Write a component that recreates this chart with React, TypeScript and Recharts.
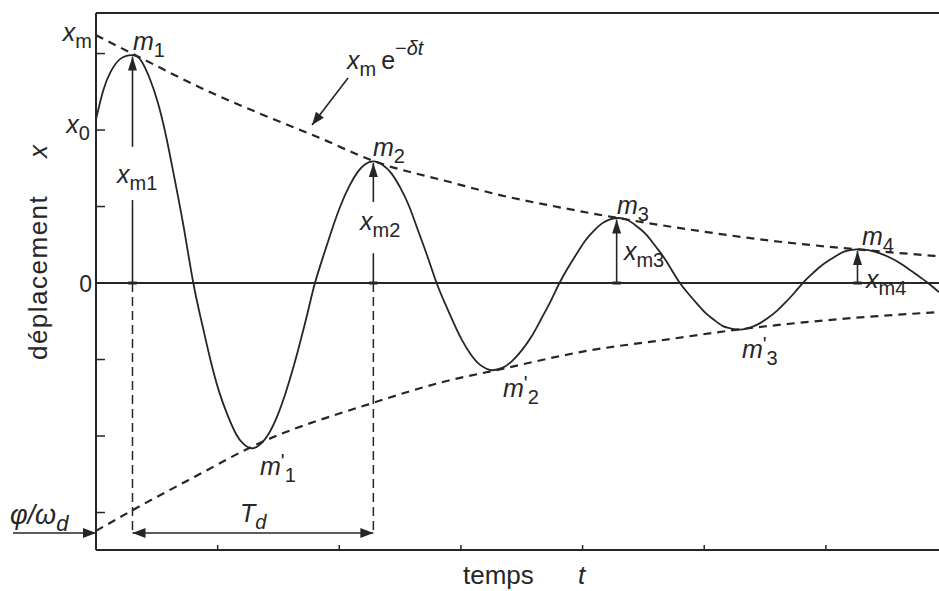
import React from 'react';
import { LineChart, Line, XAxis, YAxis, ReferenceLine, ReferenceDot } from 'recharts';

const INK = '#262626';
const FONT = '"Liberation Sans", Arial, Helvetica, sans-serif';

// displacement x(t) (time and x in axis tick units)
const curveTime = [
  0, 0.06, 0.12, 0.2, 0.3, 0.37, 0.44, 0.51, 0.58, 0.65, 0.72, 0.8,
  0.87, 0.94, 1.01, 1.08, 1.15, 1.21, 1.28, 1.35, 1.42, 1.49, 1.56, 1.63, 1.7, 1.75, 1.8,
  1.87, 1.94, 2.01, 2.08, 2.15, 2.21, 2.28, 2.36, 2.43, 2.5, 2.57, 2.64, 2.72, 2.8,
  2.87, 2.94, 3.01, 3.08, 3.15, 3.21, 3.26, 3.34, 3.42, 3.5, 3.58, 3.66, 3.74, 3.81,
  3.88, 3.95, 4.02, 4.09, 4.16, 4.22, 4.28, 4.36, 4.44, 4.52, 4.6, 4.67, 4.74, 4.8,
  4.87, 4.94, 5.01, 5.08, 5.15, 5.21, 5.28, 5.36, 5.44, 5.52, 5.6, 5.67, 5.74, 5.81,
  5.88, 5.95, 6.02, 6.09, 6.15, 6.2, 6.26, 6.35, 6.44, 6.53, 6.62, 6.71, 6.78, 6.84, 6.93,
];
const curveValue = [
  2.14, 2.52, 2.76, 2.93, 2.98, 2.91, 2.68, 2.35, 1.89, 1.33, 0.74, 0,
  -0.52, -1.0, -1.41, -1.72, -1.97, -2.1, -2.16, -2.11, -1.97, -1.74, -1.43, -1.06, -0.64, -0.32, 0,
  0.36, 0.7, 1.01, 1.26, 1.45, 1.55, 1.59, 1.54, 1.43, 1.25, 1.02, 0.72, 0.37, 0,
  -0.27, -0.52, -0.75, -0.93, -1.06, -1.12, -1.14, -1.11, -1.02, -0.88, -0.7, -0.47, -0.23, 0,
  0.2, 0.38, 0.55, 0.68, 0.78, 0.83, 0.85, 0.83, 0.75, 0.64, 0.48, 0.33, 0.15, 0,
  -0.14, -0.27, -0.39, -0.48, -0.56, -0.59, -0.61, -0.59, -0.54, -0.46, -0.36, -0.25, -0.13, 0,
  0.11, 0.21, 0.29, 0.36, 0.41, 0.43, 0.44, 0.43, 0.39, 0.33, 0.25, 0.15, 0.07, 0, -0.12,
];

// envelopes  ±xm e^(-δt)
const upperTime = [0, 0.36, 0.85, 1.34, 1.82, 2.29, 2.91, 3.32, 3.81, 4.29, 4.96, 5.62, 6.26, 6.93];
const upperValue = [3.24, 2.95, 2.56, 2.22, 1.91, 1.59, 1.32, 1.15, 0.99, 0.85, 0.68, 0.54, 0.44, 0.35];
const lowerTime = [0, 0.3, 0.85, 1.28, 2.27, 2.91, 3.26, 4.06, 4.64, 5.27, 6.2, 6.93];
const lowerValue = [-3.24, -2.97, -2.5, -2.14, -1.57, -1.27, -1.15, -0.88, -0.75, -0.61, -0.46, -0.38];

// maxima m1..m4
const peakTime = [0.3, 2.28, 4.28, 6.26];
const peakValue = [2.98, 1.59, 0.85, 0.44];

const xTicks = [1, 2, 3, 4, 5, 6];
const yTicks = [-3, -2, -1, 0, 1, 2, 3];

const curveData = curveTime.map((t, i) => ({ t, x: curveValue[i] }));
const upperData = upperTime.map((t, i) => ({ t, x: upperValue[i] }));
const lowerData = lowerTime.map((t, i) => ({ t, x: lowerValue[i] }));

type Part = { s: string; it?: boolean; sub?: boolean; sup?: boolean; prime?: boolean };
type Note = {
  t: number;
  v: number;
  parts: Part[];
  size?: number;
  anchor?: 'start' | 'end';
  rotate?: boolean;
  spacing?: number;
};

const mSub = (n: string): Part[] => [{ s: 'm', it: true }, { s: n, sub: true }];
const mPrime = (n: string): Part[] => [
  { s: 'm', it: true },
  { s: "'", prime: true },
  { s: n, sub: true },
];

const notes: Note[] = [
  { t: -0.033, v: 3.16, anchor: 'end', parts: [{ s: 'x', it: true }, { s: 'm', sub: true }] },
  { t: -0.05, v: 1.96, anchor: 'end', parts: [{ s: 'x', it: true }, { s: '0', sub: true }] },
  { t: -0.033, v: -0.12, anchor: 'end', size: 23, parts: [{ s: '0' }] },
  { t: 0.304, v: 3.05, parts: mSub('1') },
  { t: 2.277, v: 1.66, parts: mSub('2') },
  { t: 4.283, v: 0.9, parts: mSub('3') },
  { t: 6.297, v: 0.5, parts: mSub('4') },
  { t: 1.348, v: -2.51, parts: mPrime('1') },
  { t: 3.346, v: -1.49, parts: mPrime('2') },
  { t: 5.31, v: -0.98, parts: mPrime('3') },
  { t: 0.173, v: 1.31, parts: [{ s: 'x', it: true }, { s: 'm1', sub: true }] },
  { t: 2.17, v: 0.69, parts: [{ s: 'x', it: true }, { s: 'm2', sub: true }] },
  { t: 4.34, v: 0.3, parts: [{ s: 'x', it: true }, { s: 'm3', sub: true }] },
  { t: 6.33, v: -0.07, parts: [{ s: 'x', it: true }, { s: 'm4', sub: true }] },
  {
    t: 2.063,
    v: 2.8,
    parts: [
      { s: 'x', it: true },
      { s: 'm', sub: true },
      { s: '\u2009e' },
      { s: '\u2212', sup: true },
      { s: 'δt', sup: true, it: true },
    ],
  },
  { t: -0.707, v: -3.15, size: 27, parts: [{ s: 'φ/ω', it: true }, { s: 'd', sub: true, it: true }] },
  { t: 1.184, v: -3.12, parts: [{ s: 'T', it: true }, { s: 'd', sub: true, it: true }] },
  { t: 3.017, v: -3.935, size: 26, parts: [{ s: 'temps' }] },
  { t: 3.962, v: -3.935, size: 26, parts: [{ s: 't', it: true }] },
  { t: -0.403, v: -1.007, size: 26, rotate: true, spacing: 1.5, parts: [{ s: 'déplacement' }] },
  { t: -0.403, v: 1.634, size: 26, rotate: true, parts: [{ s: 'x', it: true }] },
];

const renderNote = (note: Note) => (p: any) => {
  const { cx, cy } = p;
  const size = note.size ?? 25;
  const small = Math.round(size * 0.8);
  let shift = 0;
  const spans = note.parts.map((part, i) => {
    const target = part.sub ? 7 : part.sup ? -14 : part.prime ? -7 : 0;
    const dy = target - shift;
    shift = target;
    return (
      <tspan
        key={i}
        dy={dy}
        fontSize={part.sub || part.sup || part.prime ? small : size}
        fontStyle={part.it ? 'italic' : 'normal'}
      >
        {part.s}
      </tspan>
    );
  });
  return (
    <text
      x={cx}
      y={cy}
      fill={INK}
      fontFamily={FONT}
      fontSize={size}
      textAnchor={note.anchor ?? 'start'}
      letterSpacing={note.spacing}
      transform={note.rotate ? `rotate(-90 ${cx} ${cy})` : undefined}
    >
      {spans}
    </text>
  );
};

const arrowShape = (headStart: boolean, headEnd: boolean, len = 14, half = 4.5) => (p: any) => {
  const { x1, y1, x2, y2 } = p;
  const dx = x2 - x1;
  const dy = y2 - y1;
  const d = Math.hypot(dx, dy) || 1;
  const ux = dx / d;
  const uy = dy / d;
  const head = (tx: number, ty: number, sx: number, sy: number) => {
    const bx = tx - sx * len;
    const by = ty - sy * len;
    return `${tx},${ty} ${bx - sy * half},${by + sx * half} ${bx + sy * half},${by - sx * half}`;
  };
  return (
    <g>
      <line x1={x1} y1={y1} x2={x2} y2={y2} stroke={INK} strokeWidth={1.6} />
      {headEnd && <polygon points={head(x2, y2, ux, uy)} fill={INK} />}
      {headStart && <polygon points={head(x1, y1, -ux, -uy)} fill={INK} />}
    </g>
  );
};

const noLabel = () => <g />;

// label gaps cut into the xm1 / xm2 arrows
const arrowGaps: ([number, number] | null)[] = [[1.085, 1.78], [0.39, 1.06], null, null];
const baseLevel = -3.268;

export default function App() {
  return (
    <div style={{ position: 'absolute', left: 0, top: 0, width: 939, height: 591, background: '#fff' }}>
      <LineChart width={939} height={591} margin={{ top: 13, right: 0, bottom: 41, left: 96 }}>
        <XAxis
          dataKey="t"
          type="number"
          domain={[0, 6.93]}
          ticks={xTicks}
          mirror
          tick={noLabel}
          tickSize={5}
          axisLine={{ stroke: INK, strokeWidth: 2 }}
          tickLine={{ stroke: INK, strokeWidth: 1.5 }}
        />
        <XAxis
          xAxisId="top"
          orientation="top"
          type="number"
          domain={[0, 6.93]}
          ticks={xTicks}
          mirror
          tick={noLabel}
          tickSize={5}
          axisLine={{ stroke: INK, strokeWidth: 2 }}
          tickLine={{ stroke: INK, strokeWidth: 1.5 }}
        />
        <YAxis
          type="number"
          domain={[-3.49, 3.53]}
          ticks={yTicks}
          mirror
          tick={noLabel}
          tickSize={9}
          axisLine={{ stroke: INK, strokeWidth: 2 }}
          tickLine={{ stroke: INK, strokeWidth: 1.5 }}
        />

        <ReferenceLine y={0} stroke={INK} strokeWidth={2} ifOverflow="visible" />

        {/* period construction */}
        {[peakTime[0], peakTime[1]].map((t) => (
          <ReferenceLine
            key={`dash-${t}`}
            segment={[{ x: t, y: 0 }, { x: t, y: baseLevel }]}
            stroke={INK}
            strokeWidth={1.5}
            strokeDasharray="9 5"
            ifOverflow="visible"
          />
        ))}
        <ReferenceLine
          segment={[{ x: -0.682, y: baseLevel }, { x: 0, y: baseLevel }]}
          shape={arrowShape(false, true, 13, 5)}
          ifOverflow="visible"
        />
        <ReferenceLine
          segment={[{ x: peakTime[0], y: baseLevel }, { x: peakTime[1], y: baseLevel }]}
          shape={arrowShape(true, true, 13, 5)}
          ifOverflow="visible"
        />

        <Line
          data={upperData}
          dataKey="x"
          type="monotone"
          stroke={INK}
          strokeWidth={2.2}
          strokeDasharray="8 6"
          dot={false}
          activeDot={false}
          isAnimationActive={false}
        />
        <Line
          data={lowerData}
          dataKey="x"
          type="monotone"
          stroke={INK}
          strokeWidth={2.2}
          strokeDasharray="8 6"
          dot={false}
          activeDot={false}
          isAnimationActive={false}
        />
        <Line
          data={curveData}
          dataKey="x"
          type="natural"
          stroke={INK}
          strokeWidth={1.8}
          dot={false}
          activeDot={false}
          isAnimationActive={false}
        />

        {/* amplitude arrows xm1..xm4 */}
        {peakTime.map((t, i) => {
          const gap = arrowGaps[i];
          const top = peakValue[i] - 0.02;
          return (
            <React.Fragment key={`amp-${i}`}>
              <ReferenceLine
                segment={[{ x: t - 0.035, y: 0 }, { x: t + 0.035, y: 0 }]}
                stroke={INK}
                strokeWidth={3}
                ifOverflow="visible"
              />
              {gap && (
                <ReferenceLine
                  segment={[{ x: t, y: 0 }, { x: t, y: gap[0] }]}
                  stroke={INK}
                  strokeWidth={1.6}
                  ifOverflow="visible"
                />
              )}
              <ReferenceLine
                segment={[{ x: t, y: gap ? gap[1] : 0 }, { x: t, y: top }]}
                shape={arrowShape(false, true, 14, 4.5)}
                ifOverflow="visible"
              />
            </React.Fragment>
          );
        })}

        {/* pointer to the envelope */}
        <ReferenceLine
          segment={[{ x: 2.072, y: 2.68 }, { x: 1.776, y: 2.065 }]}
          shape={arrowShape(false, true, 13, 5)}
          ifOverflow="visible"
        />

        {notes.map((n, i) => (
          <ReferenceDot key={`note-${i}`} x={n.t} y={n.v} r={0} ifOverflow="visible" shape={renderNote(n)} />
        ))}
      </LineChart>
    </div>
  );
}
